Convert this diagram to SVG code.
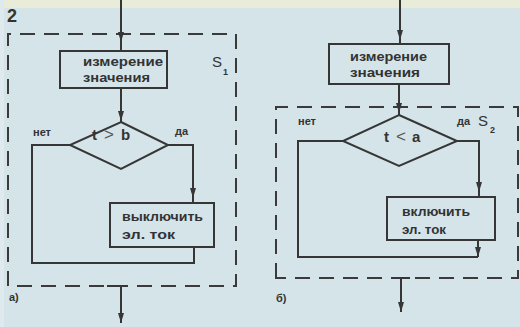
<svg xmlns="http://www.w3.org/2000/svg" width="520" height="327" viewBox="0 0 520 327">
<defs>
<style>
.ln{fill:none;stroke:#363636;stroke-width:2;stroke-linejoin:miter}
.box{fill:none;stroke:#363636;stroke-width:2}
.dash{fill:none;stroke:#3a3a3a;stroke-width:2;stroke-dasharray:15 9}
.t{font-family:"Liberation Sans",Arial,sans-serif;font-weight:bold;fill:#333;font-size:12.5px}
.big{font-family:"Liberation Sans",Arial,sans-serif;font-weight:bold;fill:#333;font-size:15px}
.rel{font-family:"Liberation Sans",Arial,sans-serif;font-weight:normal;fill:#555;font-size:17px}
.lbl{font-family:"Liberation Sans",Arial,sans-serif;font-weight:bold;fill:#333;font-size:11px}
</style>
<marker id="ah" viewBox="0 0 10 6" refX="10" refY="3" markerWidth="10" markerHeight="6" markerUnits="userSpaceOnUse" orient="auto">
<path d="M0,0 L10,3 L0,6 z" fill="#363636"/>
</marker>
</defs>
<rect x="0" y="0" width="520" height="327" fill="#d5e4e9"/>
<rect x="0" y="0" width="520" height="8" fill="#e9ecd8"/>
<rect x="0" y="0" width="4" height="327" fill="#dfeaee"/>

<text class="big" x="7" y="22" style="font-size:18px">2</text>

<g id="frameS1">
<path class="dash" d="M8,286 V34 H236 V286 Z"/>
<text class="big" x="212" y="67" style="font-weight:normal">S</text>
<text class="lbl" x="223" y="75" style="font-size:9px">1</text>
</g>
<g id="frameS2">
<path class="dash" d="M276,278 V107 H518 V278 Z"/>
<text class="big" x="478" y="126" style="font-weight:normal">S</text>
<text class="lbl" x="490" y="133" style="font-size:9px">2</text>
</g>

<g id="connectors">
<path class="ln" d="M121,0 V51"/>
<path class="ln" d="M121,30 V42" marker-end="url(#ah)"/>
<path class="ln" d="M121,88 V122"/>
<path class="ln" d="M121,110 V121" marker-end="url(#ah)"/>
<path class="ln" d="M168,145 H193 V203"/>
<path class="ln" d="M193,185 V198" marker-end="url(#ah)"/>
<path class="ln" d="M70,145 H32 V263 H194 V247"/>
<path class="ln" d="M107,286 H127"/>
<path class="ln" d="M121,286 V323" marker-end="url(#ah)"/>

<path class="ln" d="M400,0 V44"/>
<path class="ln" d="M400,28 V40" marker-end="url(#ah)"/>
<path class="ln" d="M399,84 V115"/>
<path class="ln" d="M399,100 V113" marker-end="url(#ah)"/>
<path class="ln" d="M457,141 H479 V197"/>
<path class="ln" d="M479,178 V192" marker-end="url(#ah)"/>
<path class="ln" d="M343,141 H298 V257 H478"/>
<path class="ln" d="M478,240 V257" marker-end="url(#ah)"/>
<path class="ln" d="M393,278 H410"/>
<path class="ln" d="M401,278 V312" marker-end="url(#ah)"/>
</g>

<g id="measure1">
<rect class="box" x="60" y="51" width="107" height="37"/>
<text class="t" x="83" y="66" textLength="80" lengthAdjust="spacingAndGlyphs">измерение</text>
<text class="t" x="83" y="82" textLength="67" lengthAdjust="spacingAndGlyphs">значения</text>
</g>
<g id="decision1">
<path class="box" d="M121,122 L168,145 L121,169 L70,145 Z"/>
<text class="big" x="92" y="140">t</text>
<text class="rel" x="104" y="140">&gt;</text>
<text class="big" x="121" y="140">b</text>
<text class="lbl" x="33" y="136">нет</text>
<text class="lbl" x="175" y="135">да</text>
</g>
<g id="off1">
<rect class="box" x="110" y="203" width="104" height="44"/>
<text class="t" x="122" y="221" textLength="81" lengthAdjust="spacingAndGlyphs">выключить</text>
<text class="t" x="122" y="239" textLength="53" lengthAdjust="spacingAndGlyphs">эл. ток</text>
</g>
<text class="lbl" x="9" y="301">а)</text>

<g id="measure2">
<rect class="box" x="329" y="44" width="120" height="40"/>
<text class="t" x="350" y="61" textLength="77" lengthAdjust="spacingAndGlyphs">измерение</text>
<text class="t" x="350" y="77" textLength="70" lengthAdjust="spacingAndGlyphs">значения</text>
</g>
<g id="decision2">
<path class="box" d="M399,115 L457,141 L399,166 L343,141 Z"/>
<text class="big" x="384" y="142">t</text>
<text class="rel" x="396" y="142">&lt;</text>
<text class="big" x="412" y="142">a</text>
<text class="lbl" x="298" y="125">нет</text>
<text class="lbl" x="457" y="125">да</text>
</g>
<g id="on2">
<rect class="box" x="387" y="197" width="108" height="43"/>
<text class="t" x="402" y="216" textLength="68" lengthAdjust="spacingAndGlyphs">включить</text>
<text class="t" x="402" y="234" textLength="44" lengthAdjust="spacingAndGlyphs">эл. ток</text>
</g>
<text class="lbl" x="276" y="302">б)</text>
</svg>
